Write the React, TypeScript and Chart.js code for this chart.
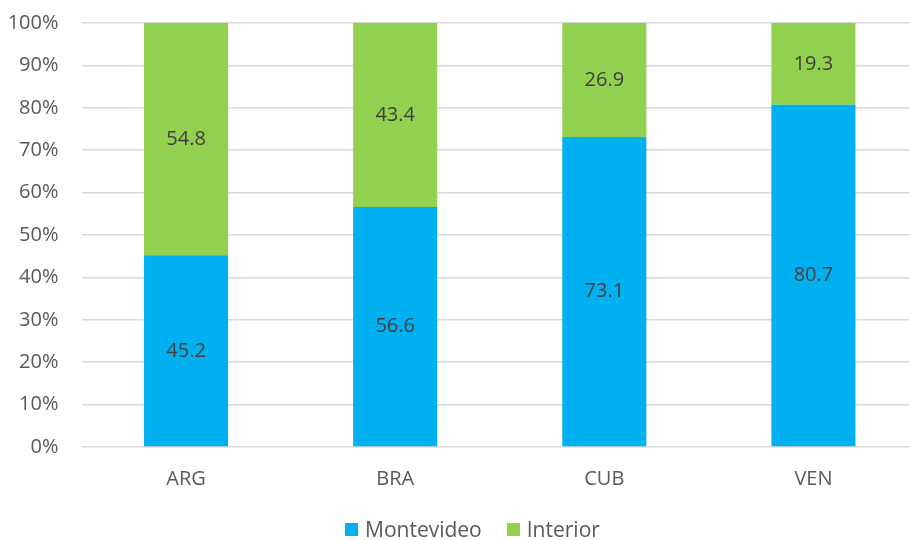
import React, { useEffect, useRef } from "react";
import { Chart, registerables } from "chart.js";

Chart.register(...registerables);

const categories = ["ARG", "BRA", "CUB", "VEN"];
const montevideo = [45.2, 56.6, 73.1, 80.7];
const interior = [54.8, 43.4, 26.9, 19.3];
const seriesNames = ["Montevideo", "Interior"];
const seriesColors = ["#00B0F0", "#92D050"];

const FONT = "'Open Sans', 'Noto Sans', sans-serif";

// Writes each segment's value in the middle of its bar piece
const segmentLabels = {
  id: "segmentLabels",
  afterDatasetsDraw(chart: any) {
    const { ctx } = chart;
    ctx.save();
    ctx.font = `20px ${FONT}`;
    ctx.fillStyle = "#404040";
    ctx.textAlign = "center";
    ctx.textBaseline = "middle";
    chart.data.datasets.forEach((ds: any, di: number) => {
      const meta = chart.getDatasetMeta(di);
      meta.data.forEach((bar: any, i: number) => {
        const { x, y, base } = bar.getProps(["x", "y", "base"], true);
        ctx.fillText(ds.data[i].toFixed(1), x, (y + base) / 2);
      });
    });
    ctx.restore();
  },
};

export default function App() {
  const ref = useRef<HTMLCanvasElement>(null);

  useEffect(() => {
    if (!ref.current) return;
    const chart = new Chart(ref.current, {
      type: "bar",
      data: {
        labels: categories,
        datasets: [
          { label: seriesNames[0], data: montevideo, backgroundColor: seriesColors[0] },
          { label: seriesNames[1], data: interior, backgroundColor: seriesColors[1] },
        ],
      },
      options: {
        responsive: false,
        animation: false,
        layout: { padding: { top: 23, bottom: 29, left: 0, right: 0 } },
        datasets: {
          bar: { categoryPercentage: 1, barPercentage: 0.402, borderWidth: 0 },
        },
        plugins: {
          legend: { display: false },
          tooltip: { enabled: false },
        },
        scales: {
          x: {
            stacked: true,
            grid: { display: false, drawTicks: false },
            border: { display: false },
            ticks: { color: "#595959", font: { family: FONT, size: 20 }, padding: 20 },
          },
          y: {
            stacked: true,
            min: 0,
            max: 100,
            afterFit(scale: any) {
              scale.width = 81.5;
              scale.paddingTop = 0;
              scale.paddingBottom = 0;
            },
            grid: { color: "#d9d9d9", lineWidth: 1.5, drawTicks: false },
            border: { display: false },
            ticks: {
              stepSize: 10,
              color: "#595959",
              font: { family: FONT, size: 20 },
              padding: 23,
              callback: (v: any) => `${v}%`,
            },
          },
        },
      },
      plugins: [segmentLabels],
    });
    return () => chart.destroy();
  }, []);

  return (
    <div
      style={{
        position: "fixed",
        left: 0,
        top: 0,
        width: 909,
        height: 540,
        overflow: "hidden",
        background: "#fff",
      }}
    >
      <canvas ref={ref} width={918} height={540} style={{ display: "block" }} />
      <div
        style={{
          position: "absolute",
          left: 345,
          top: 515,
          display: "flex",
          alignItems: "center",
          fontFamily: FONT,
          fontSize: 21,
          color: "#595959",
          lineHeight: "29px",
        }}
      >
        {seriesNames.map((name, i) => (
          <div
            key={name}
            style={{ display: "flex", alignItems: "center", marginRight: i === 0 ? 25 : 0 }}
          >
            <span
              style={{
                display: "inline-block",
                width: 13,
                height: 13,
                background: seriesColors[i],
                marginRight: 7,
              }}
            />
            <span>{name}</span>
          </div>
        ))}
      </div>
    </div>
  );
}
